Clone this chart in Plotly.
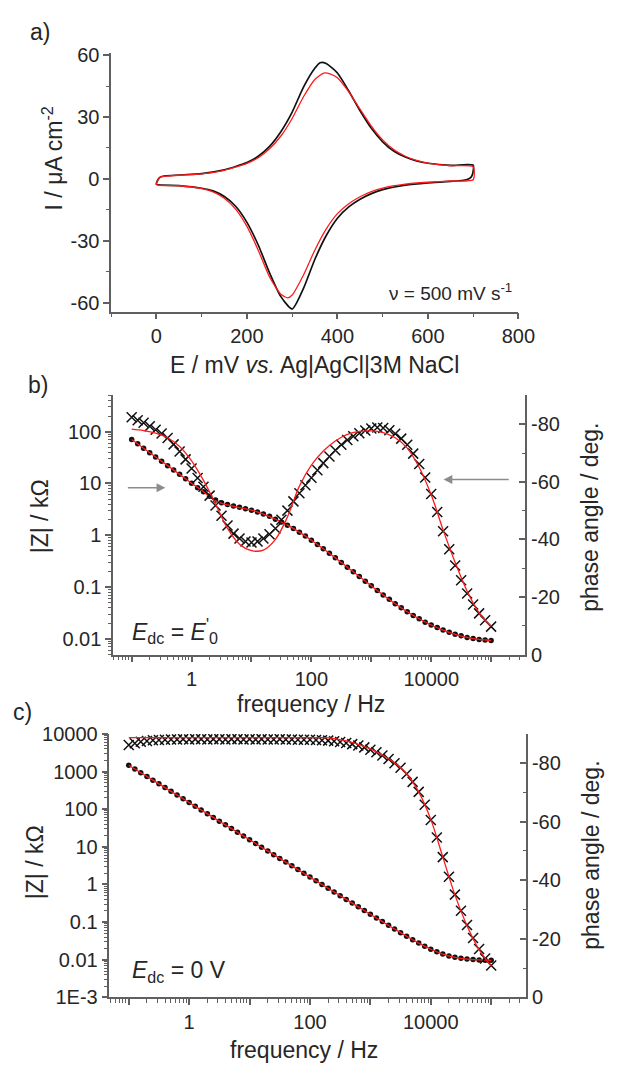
import plotly.graph_objects as go

W, H = 622, 1074

# ---------------- a) cyclic voltammetry (E in mV, I in uA cm^-2) ----------------
cv_exp_E = [0, 3, 8, 20, 50, 100, 150, 175, 200, 225, 250, 275, 300, 325, 350, 362, 375,
            400, 425, 450, 475, 500, 525, 550, 575, 600, 650, 700,
            700, 696, 685, 650, 600, 550, 500, 475, 450, 425, 400, 375, 350, 325, 300,
            275, 250, 225, 200, 175, 150, 125, 100, 50, 0]
cv_exp_I = [-2.6, -0.5, 0.9, 1.5, 1.9, 2.6, 4.4, 6.0, 7.9, 11.0, 15.8, 22.9, 32.4, 44.5, 53.6, 56.3, 55.9,
            51.3, 42.6, 33.0, 24.5, 18.0, 13.4, 10.6, 8.7, 7.6, 6.6, 6.7,
            3.8, 1.0, -0.4, -1.2, -1.9, -3.0, -5.2, -7.1, -9.8, -13.5, -19.0, -27.5, -39.0, -53.0, -63.0,
            -57.0, -45.5, -32.0, -21.0, -13.2, -8.5, -5.8, -4.5, -3.2, -2.6]
cv_fit_E = [0, 4, 10, 25, 50, 100, 150, 175, 200, 225, 250, 275, 300, 325, 350, 370, 385,
            400, 425, 450, 475, 500, 525, 550, 575, 600, 650, 700,
            700, 650, 600, 550, 500, 475, 450, 425, 400, 375, 350, 325, 300, 290,
            275, 250, 225, 200, 175, 150, 125, 100, 50, 0]
cv_fit_I = [-2.8, -0.3, 1.0, 1.4, 1.8, 2.5, 4.2, 5.7, 7.5, 10.3, 14.6, 20.8, 29.3, 39.8, 48.2, 51.3, 50.8,
            49.0, 42.2, 33.8, 25.6, 18.9, 14.1, 11.0, 9.0, 7.7, 6.4, 5.9,
            -0.4, -1.0, -1.6, -2.5, -4.4, -6.1, -8.6, -12.0, -16.8, -24.3, -34.5, -46.5, -56.2, -57.6,
            -55.8, -47.5, -34.5, -23.0, -14.6, -9.3, -6.3, -4.7, -3.3, -2.8]

# ---------------- b), c) impedance spectra ----------------
freq_hz = [0.1, 0.126, 0.158, 0.2, 0.251, 0.316, 0.398, 0.501, 0.631, 0.794,
           1, 1.26, 1.58, 2, 2.51, 3.16, 3.98, 5.01, 6.31, 7.94,
           10, 12.6, 15.8, 20, 25.1, 31.6, 39.8, 50.1, 63.1, 79.4,
           100, 126, 158, 200, 251, 316, 398, 501, 631, 794,
           1000, 1260, 1580, 2000, 2510, 3160, 3980, 5010, 6310, 7940,
           10000, 12600, 15800, 20000, 25100, 31600, 39800, 50100, 63100, 79400,
           100000]
freq_fit_hz = [0.1, 0.158, 0.251, 0.398, 0.631, 1, 1.58, 2.51, 3.98, 6.31,
               10, 15.8, 25.1, 39.8, 63.1, 100, 158, 251, 398, 631,
               1000, 1580, 2510, 3980, 6310, 10000, 15800, 25100, 39800, 63100,
               100000]

# b) E_dc = E'0 : |Z| in kOhm, phase in degrees
zmod_b = [70.8, 58.2, 47.9, 39.4, 32.4, 26.9, 22.1, 18.2, 15.0, 12.3,
          10.1, 8.32, 6.92, 5.69, 4.79, 4.27, 3.94, 3.67, 3.47, 3.27,
          3.05, 2.82, 2.57, 2.32, 2.04, 1.80, 1.57, 1.35, 1.15, 0.966,
          0.804, 0.668, 0.550, 0.452, 0.367, 0.299, 0.243, 0.197, 0.160, 0.130,
          0.106, 0.0861, 0.0708, 0.0582, 0.0479, 0.0398, 0.0335, 0.0285, 0.0245, 0.0211,
          0.0186, 0.0166, 0.0148, 0.0135, 0.0123, 0.0115, 0.0107, 0.0102, 0.00977, 0.00955,
          0.00933]
phase_b = [-82.4, -81.4, -80.5, -79.3, -78.1, -76.8, -75.2, -73.0, -70.5, -67.8,
           -64.6, -61.3, -58.3, -55.2, -51.8, -48.2, -44.8, -42.0, -40.3, -39.3,
           -38.9, -39.3, -40.3, -41.8, -43.8, -46.8, -50.0, -53.2, -56.0, -58.8,
           -61.4, -64.0, -66.5, -68.8, -71.0, -72.9, -74.5, -75.8, -76.9, -77.8,
           -78.5, -78.9, -78.7, -77.9, -76.7, -75.0, -72.9, -69.8, -66.2, -61.5,
           -55.8, -49.5, -42.8, -36.6, -30.9, -25.8, -21.2, -17.4, -14.3, -11.9,
           -9.7]
zmod_b_fit = [70.8, 47.9, 32.4, 22.1, 15.0, 10.1, 6.92, 4.62, 3.85, 3.43,
              3.05, 2.57, 2.04, 1.57, 1.15, 0.804, 0.550, 0.367, 0.243, 0.160,
              0.106, 0.0708, 0.0479, 0.0335, 0.0245, 0.0186, 0.0148, 0.0123, 0.0107, 0.00977,
              0.00933]
phase_b_fit = [-78.3, -77.8, -76.9, -75.3, -72.3, -67.3, -60.5, -52.3, -43.8, -38.3,
               -36.1, -36.3, -40.0, -47.8, -58.5, -65.8, -70.7, -74.2, -76.5, -77.5,
               -77.7, -77.1, -75.3, -71.7, -65.0, -55.5, -43.3, -32.0, -22.0, -14.5,
               -9.8]

# c) E_dc = 0 V
zmod_c = [1470, 1170, 931, 741, 590, 470, 374, 298, 237, 189,
          150, 120, 95.3, 75.9, 60.4, 48.1, 38.3, 30.5, 24.3, 19.3,
          15.4, 12.2, 9.75, 7.76, 6.18, 4.92, 3.92, 3.12, 2.48, 1.98,
          1.57, 1.25, 0.998, 0.794, 0.632, 0.504, 0.401, 0.319, 0.254, 0.202,
          0.161, 0.129, 0.103, 0.0818, 0.0655, 0.0524, 0.0421, 0.0340, 0.0277, 0.0228,
          0.0190, 0.0162, 0.0141, 0.0126, 0.0116, 0.0109, 0.0104, 0.0101, 0.00986, 0.00973,
          0.00966]
phase_c = [-86.2, -86.8, -87.3, -87.6, -87.8, -87.9, -88.0, -88.1, -88.1, -88.2,
           -88.1, -88.2, -88.2, -88.1, -88.2, -88.2, -88.1, -88.2, -88.2, -88.1,
           -88.2, -88.1, -88.2, -88.1, -88.1, -88.2, -88.1, -88.1, -88.0, -88.0,
           -88.0, -87.9, -87.8, -87.7, -87.5, -87.2, -86.9, -86.5, -86.0, -85.4,
           -84.6, -83.7, -82.6, -81.4, -80.0, -78.4, -76.3, -73.6, -70.2, -65.8,
           -60.6, -54.6, -47.9, -41.2, -35.1, -29.6, -24.7, -20.3, -16.5, -13.3,
           -10.9]
zmod_c_fit = [1470, 931, 590, 374, 237, 150, 95.3, 60.4, 38.3, 24.3,
              15.4, 9.75, 6.18, 3.92, 2.48, 1.57, 0.998, 0.632, 0.401, 0.254,
              0.161, 0.103, 0.0655, 0.0421, 0.0277, 0.0190, 0.0141, 0.0116, 0.0104, 0.00986,
              0.00966]
phase_c_fit = [-88.7, -88.7, -88.7, -88.7, -88.7, -88.7, -88.7, -88.7, -88.7, -88.7,
               -88.7, -88.7, -88.7, -88.7, -88.7, -88.7, -88.7, -88.4, -87.6, -86.4,
               -84.9, -82.8, -80.1, -76.4, -70.2, -60.8, -48.0, -35.0, -24.5, -16.3,
               -10.7]

# tick labels
cv_E_ticks = [0, 200, 400, 600, 800]
cv_I_ticks = [-60, -30, 0, 30, 60]
cv_I_ticktext = ["-60", "-30", "0", "30", "60"]
freq_ticks = [0.1, 1, 10, 100, 1000, 10000, 100000]
freq_ticktext = ["", "1", "", "100", "", "10000", ""]
zb_ticks = [0.01, 0.1, 1, 10, 100]
zb_ticktext = ["0.01", "0.1", "1", "10", "100"]
zc_ticks = [0.001, 0.01, 0.1, 1, 10, 100, 1000, 10000]
zc_ticktext = ["1E-3", "0.01", "0.1", "1", "10", "100", "1000", "10000"]
phase_ticks = [0, -20, -40, -60, -80]
phase_ticktext = ["0", "-20", "-40", "-60", "-80"]


def px(x):
    return x / W


def py(y):
    return 1 - y / H


FONT = "Liberation Sans, Arial, sans-serif"
TXT = "#262626"
AXC = "#606060"
RED = "#ff1a1a"

log_minor = [m * 10.0 ** e for e in range(-4, 7) for m in range(2, 10)]


def axis(**kw):
    d = dict(showline=True, linecolor=AXC, linewidth=1.5, ticks="outside", ticklen=6,
             tickwidth=1.5, tickcolor=AXC, showgrid=False, zeroline=False,
             tickfont=dict(family=FONT, size=20, color=TXT), mirror=False)
    d.update(kw)
    return d


def minor(vals, side="outside"):
    return dict(ticks=side, ticklen=3.5, tickwidth=1.2, tickcolor=AXC,
                tickmode="array", tickvals=vals)


fig = go.Figure()

# a)
fig.add_trace(go.Scatter(x=cv_exp_E, y=cv_exp_I, mode="lines", xaxis="x", yaxis="y",
                         line=dict(color="#111111", width=1.7, shape="spline", smoothing=0.6)))
fig.add_trace(go.Scatter(x=cv_fit_E, y=cv_fit_I, mode="lines", xaxis="x", yaxis="y",
                         line=dict(color=RED, width=1.3, shape="spline", smoothing=0.6)))

dot = dict(symbol="circle", size=5.5, color="#111111")
cross = dict(symbol="x-thin", size=10, color="#111111", line=dict(color="#111111", width=1.5))

# b)
fig.add_trace(go.Scatter(x=freq_hz, y=zmod_b, mode="markers", marker=dot, xaxis="x2", yaxis="y2"))
fig.add_trace(go.Scatter(x=freq_hz, y=phase_b, mode="markers", marker=cross, xaxis="x2", yaxis="y3"))
fig.add_trace(go.Scatter(x=freq_fit_hz, y=zmod_b_fit, mode="lines", xaxis="x2", yaxis="y2",
                         line=dict(color=RED, width=1.3, shape="spline")))
fig.add_trace(go.Scatter(x=freq_fit_hz, y=phase_b_fit, mode="lines", xaxis="x2", yaxis="y3",
                         line=dict(color=RED, width=1.3, shape="spline")))

# c)
fig.add_trace(go.Scatter(x=freq_hz, y=zmod_c, mode="markers", marker=dot, xaxis="x3", yaxis="y4"))
fig.add_trace(go.Scatter(x=freq_hz, y=phase_c, mode="markers", marker=cross, xaxis="x3", yaxis="y5"))
fig.add_trace(go.Scatter(x=freq_fit_hz, y=zmod_c_fit, mode="lines", xaxis="x3", yaxis="y4",
                         line=dict(color=RED, width=1.3, shape="spline")))
fig.add_trace(go.Scatter(x=freq_fit_hz, y=phase_c_fit, mode="lines", xaxis="x3", yaxis="y5",
                         line=dict(color=RED, width=1.3, shape="spline")))

fig.update_layout(
    width=W, height=H, margin=dict(l=0, r=0, t=0, b=0),
    paper_bgcolor="white", plot_bgcolor="white", showlegend=False,
    font=dict(family=FONT, color=TXT),
    # a)
    xaxis=axis(domain=[px(114.3), px(533)], anchor="y", range=[-100, 800],
               tickmode="array", tickvals=cv_E_ticks,
               minor=minor([-100, 100, 300, 500, 700])),
    yaxis=axis(domain=[py(307), py(43.3)], anchor="x", range=[-64.3, 60.8],
               tickmode="array", tickvals=cv_I_ticks, ticktext=cv_I_ticktext,
               minor=minor([-45, -15, 15, 45])),
    # b)
    xaxis2=axis(domain=[px(116.3), px(540)], anchor="y2", type="log", range=[-1.31, 5.57],
                tickmode="array", tickvals=freq_ticks, ticktext=freq_ticktext,
                minor=minor(log_minor)),
    yaxis2=axis(domain=[py(657), py(392.5)], anchor="x2", type="log", range=[-2.301, 2.699],
                tickmode="array", tickvals=zb_ticks, ticktext=zb_ticktext,
                minor=minor(log_minor)),
    yaxis3=axis(overlaying="y2", anchor="x2", side="right", range=[0, -90], ticks="inside",
                tickmode="array", tickvals=phase_ticks, ticktext=phase_ticktext,
                minor=minor([-10, -30, -50, -70], "inside")),
    # c)
    xaxis3=axis(domain=[px(112.5), px(541)], anchor="y4", type="log", range=[-1.32, 5.58],
                tickmode="array", tickvals=freq_ticks, ticktext=freq_ticktext,
                minor=minor(log_minor)),
    yaxis4=axis(domain=[py(1007), py(738)], anchor="x3", type="log", range=[-3, 4],
                tickmode="array", tickvals=zc_ticks, ticktext=zc_ticktext,
                minor=minor(log_minor)),
    yaxis5=axis(overlaying="y4", anchor="x3", side="right", range=[0, -90], ticks="inside",
                tickmode="array", tickvals=phase_ticks, ticktext=phase_ticktext,
                minor=minor([-10, -30, -50, -70], "inside")),
)


def label(text, x, y, size=23, angle=0, xanchor="center", yanchor="middle"):
    fig.add_annotation(text=text, x=px(x), y=py(y), xref="paper", yref="paper",
                       showarrow=False, textangle=angle, xanchor=xanchor, yanchor=yanchor,
                       font=dict(family=FONT, size=size, color=TXT))


# panel letters
label("a)", 41, 21)
label("b)", 39, 382)
label("c)", 23, 716)

# axis titles
label("I / \u03bcA cm<sup>-2</sup>", 54, 151, angle=-90)
label("E / mV <i>vs.</i> Ag|AgCl|3M NaCl", 323, 361)
label("|Z| / k\u03a9", 42, 516, angle=-90)
label("phase angle / deg.", 607, 517, angle=-90)
label("frequency / Hz", 320, 707)
label("|Z| / k\u03a9", 36, 869, angle=-90)
label("phase angle / deg.", 608, 862, angle=-90)
label("frequency / Hz", 313, 1061)

# in-plot notes
label("\u03bd = 500 mV s<sup>-1</sup>", 528, 287, size=19, xanchor="right")
label("<i>E</i><sub>dc</sub> = <i>E</i><sup>'</sup><sub>0</sub>", 134, 633, xanchor="left")
label("<i>E</i><sub>dc</sub> = 0 V", 134, 981, xanchor="left")

# arrows pointing to the axis each data set belongs to
for head_x, head_y, dx in [(170, 486.7, -39), (456, 478.3, 66.7)]:
    fig.add_annotation(x=px(head_x), y=py(head_y), xref="paper", yref="paper", text="",
                       showarrow=True, ax=dx, ay=0, arrowhead=2, arrowsize=1.1,
                       arrowwidth=1.6, arrowcolor="#8c8c8c")

fig.write_html("out.html")
